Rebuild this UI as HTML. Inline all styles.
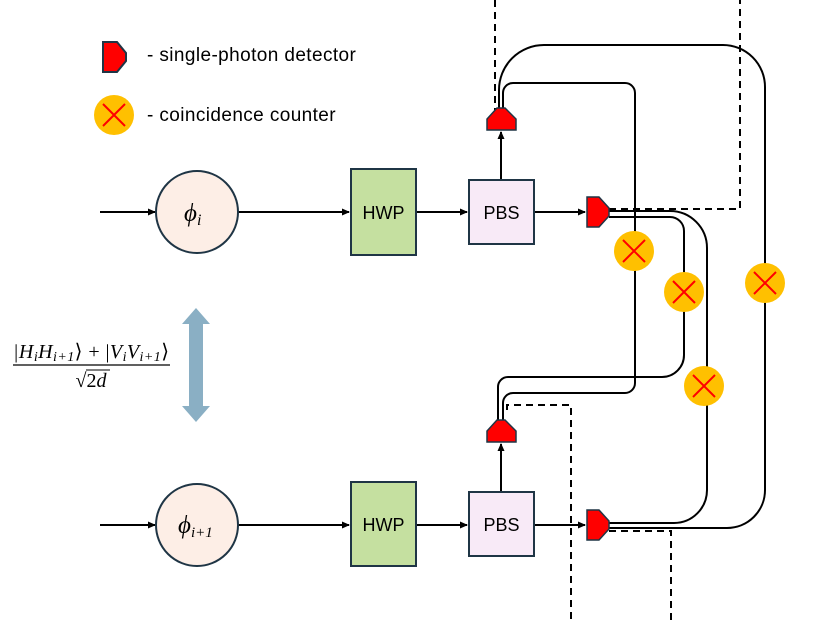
<!DOCTYPE html>
<html><head><meta charset="utf-8"><style>
html,body{margin:0;padding:0;background:#fff}
svg{display:block}
text{font-family:"Liberation Sans",sans-serif}
.m{font-family:"Liberation Serif","DejaVu Serif",serif;font-style:italic}
</style></head><body>
<svg width="830" height="623" viewBox="0 0 830 623" xmlns="http://www.w3.org/2000/svg">
<defs>
<marker id="a" markerWidth="8" markerHeight="8" refX="7" refY="4" orient="auto" markerUnits="userSpaceOnUse">
<path d="M0,0.5 L8,4 L0,7.5 Z" fill="#000"/></marker>
<g id="cc"><circle r="20" fill="#ffc000"/><path d="M-11,-11 L11,11 M11,-11 L-11,11" stroke="#ff0000" stroke-width="2"/></g>
<path id="dr" d="M-11,-15 L1,-15 L11,-4 L11,4 L1,15 L-11,15 Z" fill="#ff0000" stroke="#1f3545" stroke-width="1.5"/>
</defs>

<!-- legend -->
<path d="M103,42 L117,42 L126,53 L126,61 L117,72 L103,72 Z" fill="#ff0000" stroke="#1f3545" stroke-width="2"/>
<text x="147" y="61" font-size="19" letter-spacing="0.4">- single-photon detector</text>
<use href="#cc" x="114" y="115"/>
<text x="147" y="121" font-size="19" letter-spacing="0.4">- coincidence counter</text>

<!-- dashed lines -->
<g fill="none" stroke="#000" stroke-width="2" stroke-dasharray="7,5">
<path d="M495,0 V110"/>
<path d="M609,209 H740 V0"/>
<path d="M507,410 V405 H571 V623"/>
<path d="M609,531 H671 V623"/>
</g>

<!-- solid fiber lines -->
<g fill="none" stroke="#000" stroke-width="2">
<path d="M499,110 V90 A45,45 0 0 1 544,45 H723 A42,42 0 0 1 765,87 V490 A38,38 0 0 1 727,528 H609"/>
<path d="M503,110 V93 A10,10 0 0 1 513,83 H625 A10,10 0 0 1 635,93 V383 A10,10 0 0 1 625,393 H513 A10,10 0 0 0 503,403 V420"/>
<path d="M609,211 H670 A37,37 0 0 1 707,248 V490 A33,33 0 0 1 674,523 H609"/>
<path d="M609,217 H670 A14,14 0 0 1 684,231 V355 A22,22 0 0 1 662,377 H508 A10,10 0 0 0 498,387 V420"/>
</g>

<!-- coincidence counters -->
<use href="#cc" x="634" y="251"/>
<use href="#cc" x="684" y="292"/>
<use href="#cc" x="765" y="283"/>
<use href="#cc" x="704" y="386"/>

<!-- top row -->
<g stroke="#000" stroke-width="2" fill="none">
<path d="M100,212 H155" marker-end="url(#a)"/>
<path d="M238,212 H349" marker-end="url(#a)"/>
<path d="M416,212 H467" marker-end="url(#a)"/>
<path d="M534,212 H585" marker-end="url(#a)"/>
<path d="M501,180 V132" marker-end="url(#a)"/>
<path d="M100,525 H155" marker-end="url(#a)"/>
<path d="M238,525 H349" marker-end="url(#a)"/>
<path d="M416,525 H467" marker-end="url(#a)"/>
<path d="M534,525 H585" marker-end="url(#a)"/>
<path d="M501,492 V444" marker-end="url(#a)"/>
</g>

<circle cx="197" cy="212" r="41" fill="#fdeee6" stroke="#1f3545" stroke-width="2"/>
<text class="m" x="184" y="221" font-size="25">ϕ<tspan font-size="16" dy="4">i</tspan></text>
<rect x="351" y="169" width="65" height="86" fill="#c5e0a0" stroke="#1f3545" stroke-width="2"/>
<text x="383.5" y="219" font-size="18" text-anchor="middle">HWP</text>
<rect x="469" y="180" width="65" height="64" fill="#f8eaf7" stroke="#1f3545" stroke-width="2"/>
<text x="501.5" y="219" font-size="18" text-anchor="middle">PBS</text>
<use href="#dr" x="598" y="212"/>
<path d="M487,130 L487,119 L497,108 L505,108 L516,119 L516,130 Z" fill="#ff0000" stroke="#1f3545" stroke-width="1.5"/>

<!-- bottom row -->
<circle cx="197" cy="525" r="41" fill="#fdeee6" stroke="#1f3545" stroke-width="2"/>
<text class="m" x="178" y="533" font-size="25">ϕ<tspan font-size="15" dy="4">i+1</tspan></text>
<rect x="351" y="482" width="65" height="84" fill="#c5e0a0" stroke="#1f3545" stroke-width="2"/>
<text x="383.5" y="531" font-size="18" text-anchor="middle">HWP</text>
<rect x="469" y="492" width="65" height="64" fill="#f8eaf7" stroke="#1f3545" stroke-width="2"/>
<text x="501.5" y="531" font-size="18" text-anchor="middle">PBS</text>
<use href="#dr" x="598" y="525"/>
<path d="M487,442 L487,431 L497,420 L505,420 L516,431 L516,442 Z" fill="#ff0000" stroke="#1f3545" stroke-width="1.5"/>

<!-- blue double arrow -->
<path d="M196,308 L210,324 L203,324 L203,406 L210,406 L196,422 L182,406 L189,406 L189,324 L182,324 Z" fill="#8aafc4"/>

<!-- fraction -->
<text class="m" x="91" y="358" font-size="20" text-anchor="middle" textLength="156">|H<tspan font-size="14" dy="3">i</tspan><tspan dy="-3">H</tspan><tspan font-size="14" dy="3">i+1</tspan><tspan dy="-3" font-style="normal">⟩ + |</tspan>V<tspan font-size="14" dy="3">i</tspan><tspan dy="-3">V</tspan><tspan font-size="14" dy="3">i+1</tspan><tspan dy="-3" font-style="normal">⟩</tspan></text>
<line x1="13" y1="365" x2="170" y2="365" stroke="#000" stroke-width="1.3"/>
<text class="m" x="91" y="387" font-size="20" text-anchor="middle"><tspan font-style="normal">√2</tspan>d</text>
<line x1="86" y1="370" x2="110" y2="370" stroke="#000" stroke-width="1"/>
</svg>
</body></html>
